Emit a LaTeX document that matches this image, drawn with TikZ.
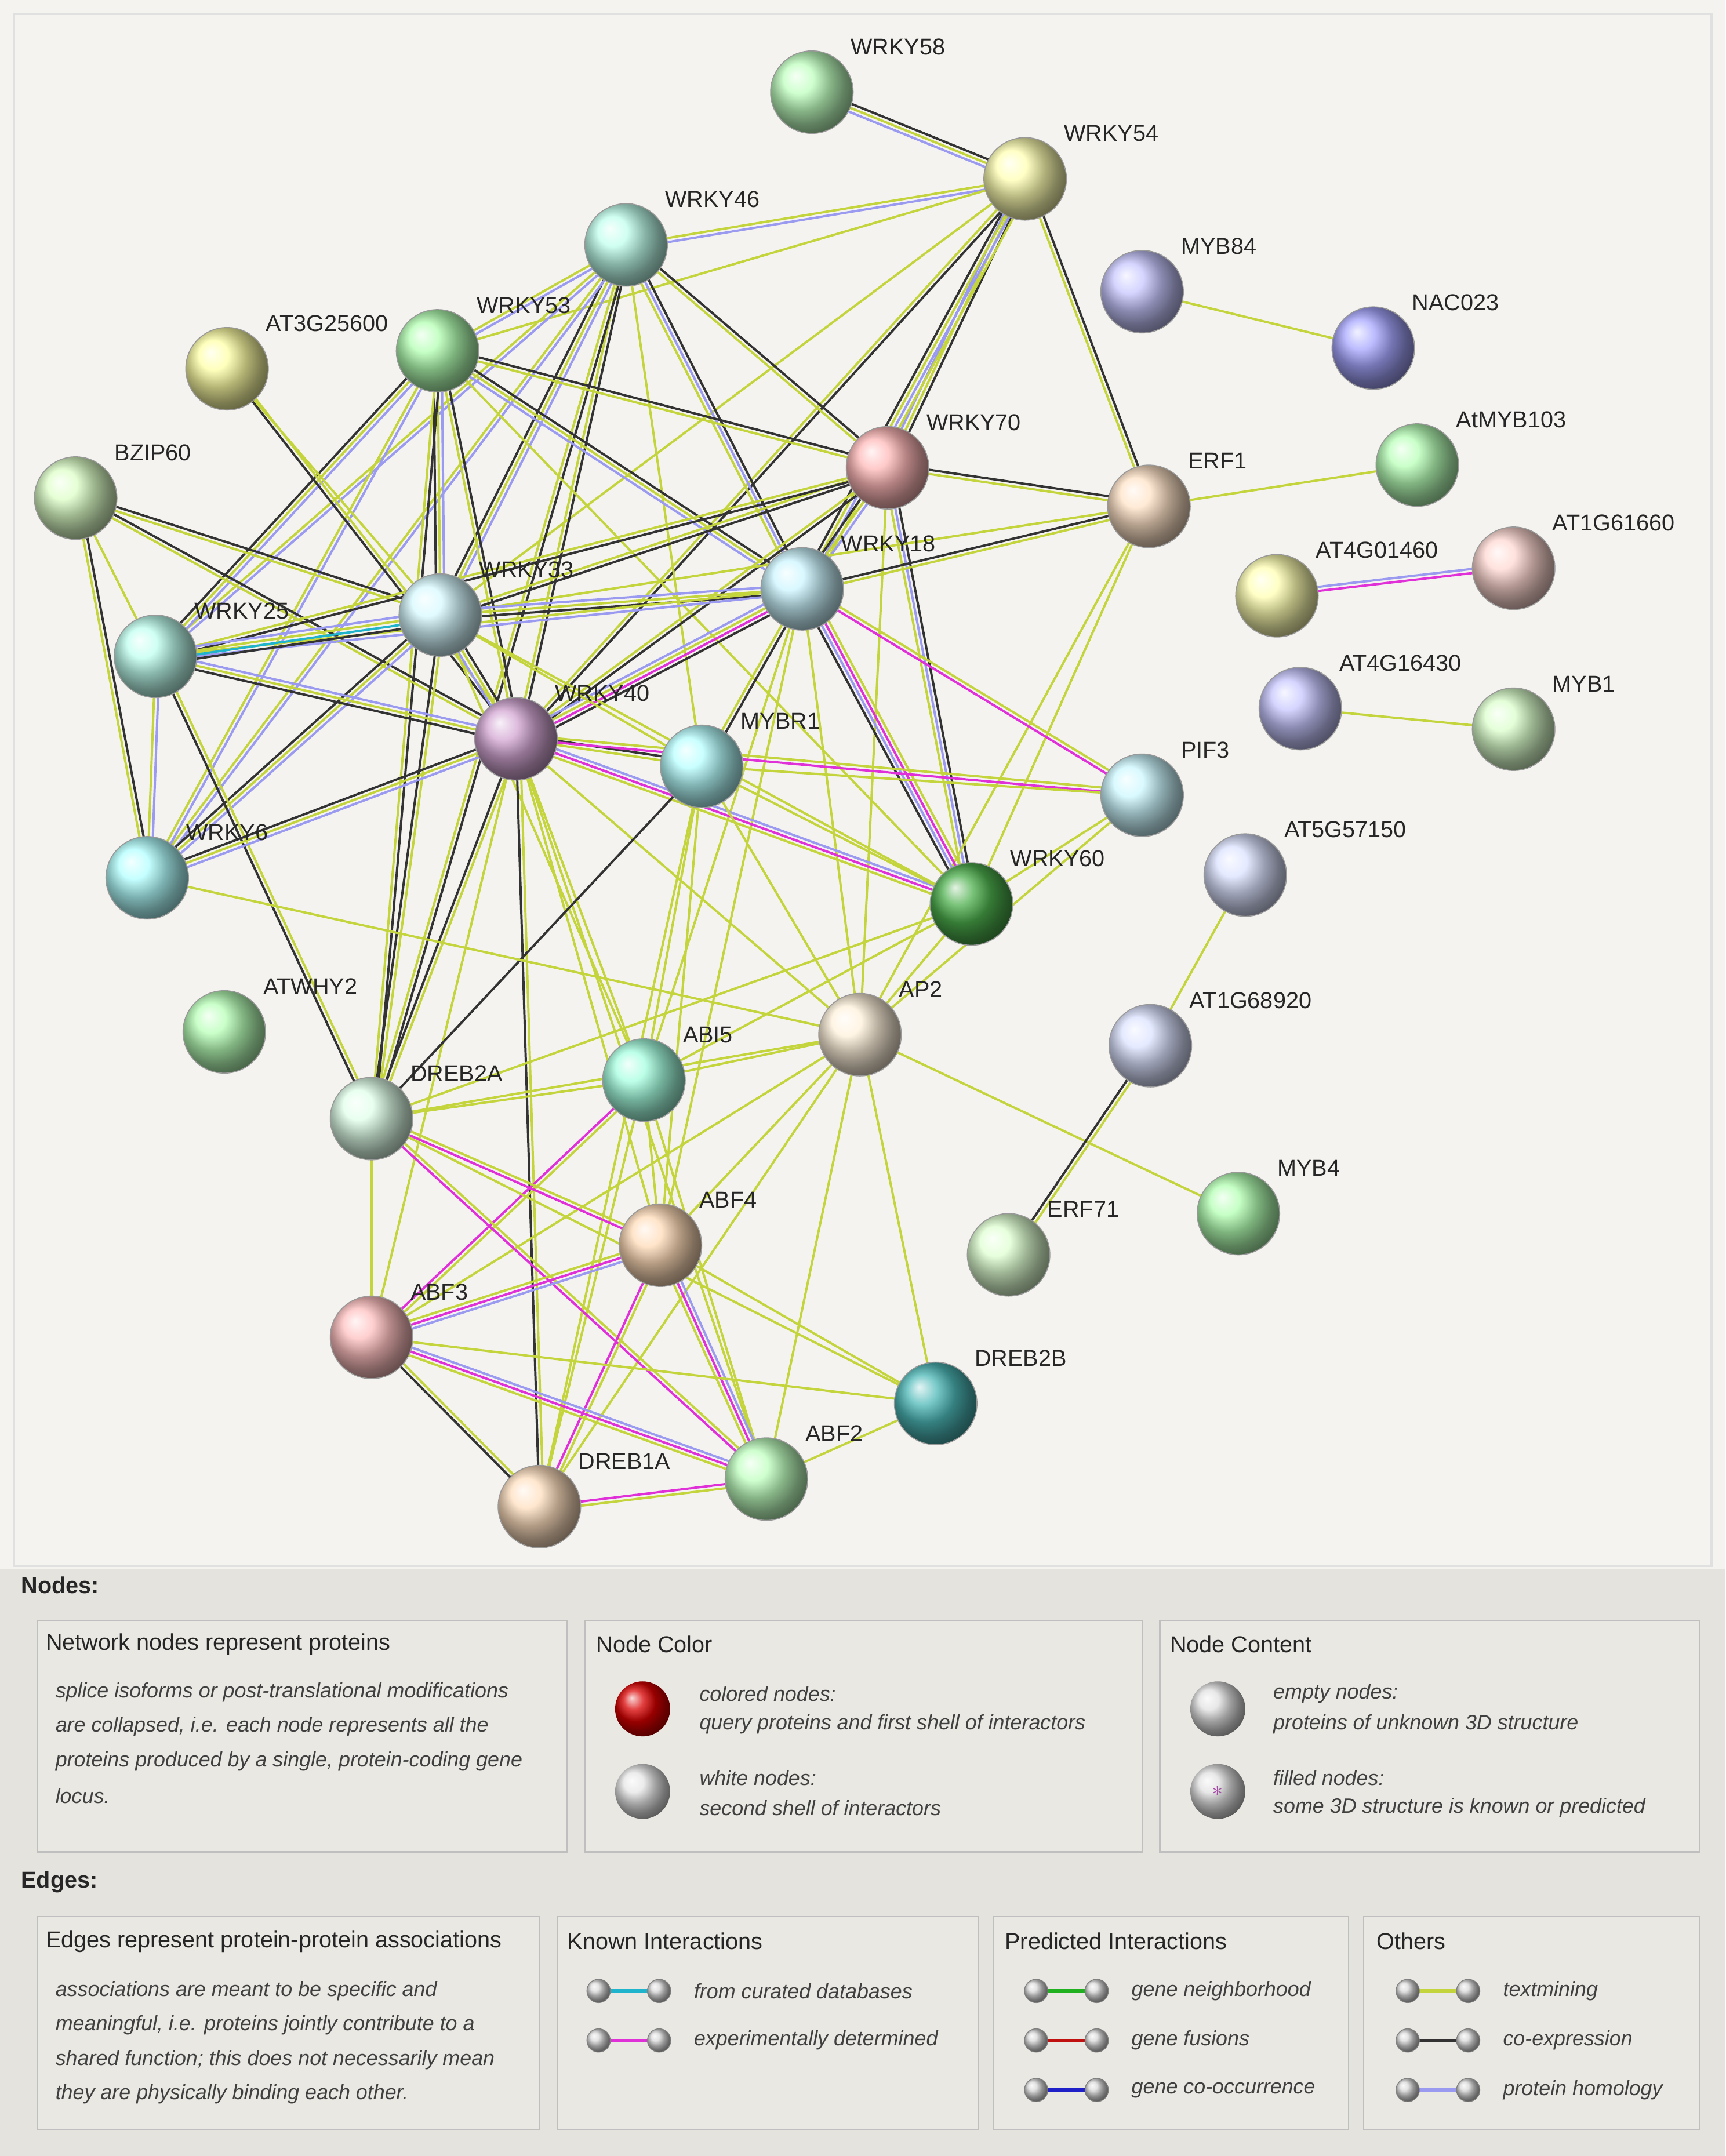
\documentclass[tikz,border=0pt]{standalone}
\usepackage{fontspec}
\setmainfont{Liberation Sans}
\usetikzlibrary{calc,backgrounds}
\definecolor{et}{HTML}{C4D43C}
\definecolor{ec}{HTML}{333333}
\definecolor{eh}{HTML}{9A9AF0}
\definecolor{ex}{HTML}{E030D8}
\definecolor{ed}{HTML}{20B4CC}
\definecolor{eg}{HTML}{20B020}
\definecolor{er}{HTML}{C01010}
\definecolor{eb}{HTML}{2020C8}
\definecolor{bgtop}{HTML}{F4F3EF}
\definecolor{bgleg}{HTML}{E4E3DE}
\definecolor{boxf}{HTML}{E9E8E3}
\tikzset{x=0.02cm,y=-0.02cm,
 ball/.style={circle,minimum size=1.2cm,inner sep=0pt,draw=black!40,line width=0.4pt},
 lab/.style={anchor=west,font=\fontsize{9.5}{11}\selectfont,text=black!85,inner sep=0pt},
 head/.style={anchor=west,font=\fontsize{9.5}{11}\selectfont,text=black!85,inner sep=0pt},
 itx/.style={anchor=west,font=\itshape\fontsize{8.6}{10}\selectfont,text=black!75,inner sep=0pt},
 lbox/.style={draw=black!25,fill=boxf,line width=0.6pt},
 dot/.style={circle,minimum size=0.34cm,inner sep=0pt,ball color=black!15,draw=black!50,line width=0.3pt}}
\newcommand\ed[3]{\foreach \cc [count=\i] in {#3}{\pgfmathsetmacro\oo{(mod(\i,2)==0?1:-1)*int(\i/2)*1.7}\draw[color=\cc,line width=0.95pt] ($(#1)!\oo pt!90:(#2)$) -- ($(#2)!\oo pt!-90:(#1)$);}}
\newcommand\pn[4]{\node[ball,ball color=#4] (#1) at (#2,#3) {}; \node[lab] at ($(#2,#3)+(28,-33)$) {#1};}
\newcommand\ic[4]{\coordinate (#1p) at (#2,#3); \coordinate (#1q) at (#2+44,#3); \draw[color=#4,line width=1.4pt] (#1p) -- (#1q); \node[dot] (#1a) at (#1p) {}; \node[dot] (#1b) at (#1q) {};}
\begin{document}
\begin{tikzpicture}
\useasboundingbox (0,0) rectangle (1254,1567);
\pn{WRKY58}{590}{67}{green!25!white}
\pn{WRKY54}{745}{130}{yellow!30!white}
\pn{WRKY46}{455}{178}{green!30!cyan!25!white}
\pn{MYB84}{830}{212}{blue!22!white}
\pn{NAC023}{998}{253}{blue!35!white}
\pn{AT3G25600}{165}{268}{yellow!35!white}
\pn{WRKY53}{318}{255}{green!30!white}
\pn{WRKY70}{645}{340}{red!28!white}
\pn{ERF1}{835}{368}{orange!22!white}
\pn{AtMYB103}{1030}{338}{green!28!white}
\pn{BZIP60}{55}{362}{yellow!40!green!22!white}
\pn{AT1G61660}{1100}{413}{orange!30!red!18!white}
\pn{AT4G01460}{928}{433}{yellow!30!white}
\pn{WRKY18}{583}{428}{blue!18!cyan!20!white}
\pn{WRKY33}{320}{447}{blue!14!cyan!16!white}
\pn{WRKY25}{113}{477}{green!25!cyan!25!white}
\pn{AT4G16430}{945}{515}{blue!22!white}
\pn{MYB1}{1100}{530}{yellow!30!green!20!white}
\pn{WRKY40}{375}{537}{violet!35!white}
\pn{MYBR1}{510}{557}{cyan!28!white}
\pn{PIF3}{830}{578}{blue!14!cyan!20!white}
\pn{WRKY6}{107}{638}{cyan!30!white}
\pn{AT5G57150}{905}{636}{cyan!20!blue!14!white}
\pn{WRKY60}{706}{657}{green!55!black!70}
\pn{ATWHY2}{163}{750}{green!28!white}
\pn{AP2}{625}{752}{yellow!22!orange!14!white}
\pn{AT1G68920}{836}{760}{cyan!20!blue!14!white}
\pn{ABI5}{468}{785}{green!35!cyan!35!white}
\pn{DREB2A}{270}{813}{cyan!30!green!12!white}
\pn{MYB4}{900}{882}{green!30!white}
\pn{ABF4}{480}{905}{orange!28!white}
\pn{ERF71}{733}{912}{yellow!30!green!18!white}
\pn{ABF3}{270}{972}{red!25!white}
\pn{DREB2B}{680}{1020}{cyan!60!black!70}
\pn{ABF2}{557}{1075}{green!25!white}
\pn{DREB1A}{392}{1095}{orange!25!white}
\begin{scope}[on background layer]
\fill[bgtop] (0,0) rectangle (1254,1140);
\draw[black!12,line width=1pt] (10,10) rectangle (1244,1138);
\fill[bgleg] (0,1140) rectangle (1254,1567);
\ed{WRKY58}{WRKY54}{et,ec,eh}
\ed{WRKY54}{WRKY46}{et,eh}
\ed{WRKY54}{WRKY53}{et}
\ed{WRKY54}{WRKY70}{et,ec,eh}
\ed{WRKY54}{WRKY18}{et,eh,ec,et}
\ed{WRKY54}{WRKY40}{et,ec}
\ed{WRKY54}{WRKY33}{et}
\ed{WRKY54}{ERF1}{et,ec}
\ed{WRKY46}{WRKY53}{et,eh}
\ed{WRKY46}{WRKY33}{et,eh,ec}
\ed{WRKY46}{WRKY25}{et,eh}
\ed{WRKY46}{WRKY6}{et,eh}
\ed{WRKY46}{WRKY40}{et,ec}
\ed{WRKY46}{WRKY18}{eh,ec,et}
\ed{WRKY46}{WRKY70}{et,ec}
\ed{WRKY46}{MYBR1}{et}
\ed{WRKY46}{DREB2A}{et,ec}
\ed{WRKY53}{WRKY70}{et,ec}
\ed{WRKY53}{WRKY18}{et,ec,eh}
\ed{WRKY53}{WRKY33}{et,eh,ec}
\ed{WRKY53}{WRKY25}{et,eh,ec}
\ed{WRKY53}{WRKY6}{et,eh}
\ed{WRKY53}{WRKY40}{et,ec}
\ed{WRKY53}{DREB2A}{et,ec}
\ed{WRKY53}{WRKY60}{et}
\ed{AT3G25600}{WRKY40}{ec,et}
\ed{AT3G25600}{WRKY33}{et}
\ed{BZIP60}{WRKY33}{et,ec}
\ed{BZIP60}{WRKY40}{et,ec}
\ed{BZIP60}{WRKY25}{et}
\ed{BZIP60}{WRKY6}{et,ec}
\ed{WRKY70}{WRKY18}{et,eh,ec}
\ed{WRKY70}{WRKY33}{et,ec}
\ed{WRKY70}{WRKY40}{et,ec}
\ed{WRKY70}{ERF1}{et,ec}
\ed{WRKY70}{WRKY25}{et,ec}
\ed{WRKY70}{WRKY60}{eh,ec,et}
\ed{WRKY70}{AP2}{et}
\ed{ERF1}{WRKY18}{ec,et}
\ed{ERF1}{AtMYB103}{et}
\ed{ERF1}{WRKY60}{et}
\ed{ERF1}{AP2}{et}
\ed{ERF1}{WRKY33}{et}
\ed{WRKY18}{WRKY33}{et,ec,eh}
\ed{WRKY18}{WRKY40}{et,ex,eh,ec}
\ed{WRKY18}{WRKY25}{et,eh}
\ed{WRKY18}{WRKY60}{eh,ex,ec,et}
\ed{WRKY18}{PIF3}{ex,et}
\ed{WRKY18}{MYBR1}{et,ec}
\ed{WRKY18}{AP2}{et}
\ed{WRKY18}{ABI5}{et}
\ed{WRKY18}{ABF4}{et}
\ed{WRKY33}{WRKY25}{et,ed,eh,ec}
\ed{WRKY33}{WRKY40}{et,ec,eh}
\ed{WRKY33}{WRKY6}{et,eh,ec}
\ed{WRKY33}{DREB2A}{ec,et}
\ed{WRKY33}{MYBR1}{et}
\ed{WRKY33}{WRKY60}{et}
\ed{WRKY33}{ABI5}{et}
\ed{WRKY25}{WRKY40}{et,eh,ec}
\ed{WRKY25}{WRKY6}{et,eh}
\ed{WRKY25}{DREB2A}{ec,et}
\ed{WRKY40}{WRKY6}{et,eh,ec}
\ed{WRKY40}{MYBR1}{et,ec}
\ed{WRKY40}{PIF3}{ex,et}
\ed{WRKY40}{WRKY60}{ex,eh,et}
\ed{WRKY40}{DREB2A}{ec,et}
\ed{WRKY40}{ABI5}{et}
\ed{WRKY40}{ABF4}{et}
\ed{WRKY40}{AP2}{et}
\ed{WRKY40}{DREB1A}{ec,et}
\ed{WRKY40}{ABF3}{et}
\ed{WRKY40}{ABF2}{et}
\ed{MYBR1}{PIF3}{et}
\ed{MYBR1}{WRKY60}{et}
\ed{MYBR1}{ABI5}{et}
\ed{MYBR1}{DREB2A}{ec}
\ed{MYBR1}{AP2}{et}
\ed{MYBR1}{ABF4}{et}
\ed{MYBR1}{DREB1A}{et}
\ed{PIF3}{AP2}{et}
\ed{PIF3}{WRKY60}{et}
\ed{WRKY6}{AP2}{et}
\ed{WRKY60}{AP2}{et}
\ed{WRKY60}{ABI5}{et}
\ed{WRKY60}{DREB2A}{et}
\ed{AP2}{ABI5}{et}
\ed{AP2}{DREB2A}{et}
\ed{AP2}{ABF4}{et}
\ed{AP2}{ABF3}{et}
\ed{AP2}{ABF2}{et}
\ed{AP2}{DREB1A}{et}
\ed{AP2}{DREB2B}{et}
\ed{AP2}{MYB4}{et}
\ed{ABI5}{DREB2A}{et}
\ed{ABI5}{ABF4}{et}
\ed{ABI5}{ABF3}{ex,et}
\ed{ABI5}{ABF2}{et}
\ed{ABI5}{DREB1A}{et}
\ed{DREB2A}{ABF4}{ex,et}
\ed{DREB2A}{ABF3}{et}
\ed{DREB2A}{ABF2}{ex,et}
\ed{DREB2A}{DREB2B}{et}
\ed{ABF4}{ABF3}{ex,eh,et}
\ed{ABF4}{ABF2}{ex,eh,et}
\ed{ABF4}{DREB1A}{ex,et}
\ed{ABF4}{DREB2B}{et}
\ed{ABF3}{ABF2}{ex,eh,et}
\ed{ABF3}{DREB1A}{ec,et}
\ed{ABF3}{DREB2B}{et}
\ed{ABF2}{DREB1A}{ex,et}
\ed{ABF2}{DREB2B}{et}
\ed{AT1G68920}{AT5G57150}{et}
\ed{AT1G68920}{ERF71}{ec,et}
\ed{MYB84}{NAC023}{et}
\ed{AT4G01460}{AT1G61660}{ex,eh}
\ed{AT4G16430}{MYB1}{et}
\end{scope}
% legend
\node[head,font=\bfseries\fontsize{9.5}{11}\selectfont] at (15,1152) {Nodes:};
\draw[lbox] (27,1178) rectangle (412,1346);
\draw[lbox] (425,1178) rectangle (830,1346);
\draw[lbox] (843,1178) rectangle (1235,1346);
\node[head] at (33,1195) {Network nodes represent proteins};
\node[itx] at (40,1230) {splice isoforms or post-translational modifications};
\node[itx] at (40,1255) {are collapsed, i.e. each node represents all the};
\node[itx] at (40,1280) {proteins produced by a single, protein-coding gene};
\node[itx] at (40,1305) {locus.};
\node[head] at (433,1195) {Node Color};
\node[circle,minimum size=0.8cm,ball color=red!85!black,inner sep=0pt] (redb) at (467,1242) {};
\node[itx] at (508,1231) {colored nodes:};
\node[itx] at (508,1253) {query proteins and first shell of interactors};
\node[circle,minimum size=0.8cm,ball color=black!10,inner sep=0pt] (whb) at (467,1302) {};
\node[itx] at (508,1292) {white nodes:};
\node[itx] at (508,1314) {second shell of interactors};
\node[head] at (850,1195) {Node Content};
\node[circle,minimum size=0.8cm,ball color=black!12,inner sep=0pt] (emb) at (885,1242) {};
\node[itx] at (925,1231) {empty nodes:};
\node[itx] at (925,1253) {proteins of unknown 3D structure};
\node[circle,minimum size=0.8cm,ball color=black!12,inner sep=0pt] (fib) at (885,1302) {};
\node[violet!70,font=\bfseries\small] at (885,1302) {$\ast$};
\node[itx] at (925,1292) {filled nodes:};
\node[itx] at (925,1314) {some 3D structure is known or predicted};
\node[head,font=\bfseries\fontsize{9.5}{11}\selectfont] at (15,1368) {Edges:};
\draw[lbox] (27,1393) rectangle (392,1548);
\draw[lbox] (405,1393) rectangle (711,1548);
\draw[lbox] (722,1393) rectangle (980,1548);
\draw[lbox] (991,1393) rectangle (1235,1548);
\node[head] at (33,1411) {Edges represent protein-protein associations};
\node[itx] at (40,1447) {associations are meant to be specific and};
\node[itx] at (40,1472) {meaningful, i.e. proteins jointly contribute to a};
\node[itx] at (40,1497) {shared function; this does not necessarily mean};
\node[itx] at (40,1522) {they are physically binding each other.};
\node[head] at (412,1411) {Known Interactions};
\ic{ka}{435}{1447}{ed}\node[itx] at (504,1447) {from curated databases};
\ic{kb}{435}{1483}{ex}\node[itx] at (504,1483) {experimentally determined};
\node[head] at (730,1411) {Predicted Interactions};
\ic{pa}{753}{1447}{eg}\node[itx] at (822,1447) {gene neighborhood};
\ic{pb}{753}{1483}{er}\node[itx] at (822,1483) {gene fusions};
\ic{pc}{753}{1519}{eb}\node[itx] at (822,1519) {gene co-occurrence};
\node[head] at (1000,1411) {Others};
\ic{oa}{1023}{1447}{et}\node[itx] at (1092,1447) {textmining};
\ic{ob}{1023}{1483}{ec}\node[itx] at (1092,1483) {co-expression};
\ic{oc}{1023}{1519}{eh}\node[itx] at (1092,1519) {protein homology};
\end{tikzpicture}
\end{document}
